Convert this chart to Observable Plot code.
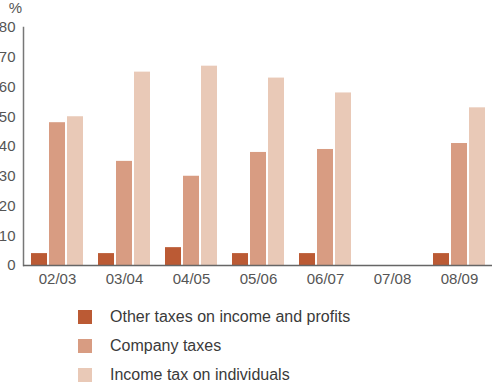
<!DOCTYPE html>
<html>
<head>
<meta charset="utf-8">
<script src="https://cdn.jsdelivr.net/npm/d3@7"></script>
<script src="https://cdn.jsdelivr.net/npm/@observablehq/plot@0.6"></script>
<style>
  body { margin: 0; background: #fff; font-family: "Liberation Sans", Arial, sans-serif; }
  #legend { margin-left: 78px; margin-top: 12px; }
  .item { display: flex; align-items: center; height: 29px; font-size: 16px; color: #3a3a3a; }
  .sw { width: 14px; height: 14px; margin-right: 18px; }
</style>
</head>
<body>
<div id="chart"></div>
<div id="legend"></div>
<script>
const years = ["02/03", "03/04", "04/05", "05/06", "06/07", "07/08", "08/09"];
const seriesNames = ["Other taxes on income and profits", "Company taxes", "Income tax on individuals"];
const otherTaxes = [4, 4, 6, 4, 4, null, 4];
const companyTaxes = [48, 35, 30, 38, 39, null, 41];
const incomeTax = [50, 65, 67, 63, 58, null, 53];
const colors = ["#bb5a34", "#d89c82", "#e9c9b7"];
const yTicks = [0, 10, 20, 30, 40, 50, 60, 70, 80];

const seriesValues = [otherTaxes, companyTaxes, incomeTax];
const rows = (i) => years.map((y, j) => ({year: y, value: seriesValues[i][j], series: seriesNames[i]}))
  .filter(d => d.value != null);

const barW = 16, gap = 2, groupW = 3 * barW + 2 * gap;
const barMarks = seriesNames.map((s, i) => Plot.barY(rows(i), {
  x: "year", y: "value", fill: colors[i],
  insetLeft: i * (barW + gap),
  insetRight: groupW - i * (barW + gap) - barW
}));

const chart = Plot.plot({
  width: 492,
  height: 290,
  marginLeft: 23,
  marginRight: 0,
  marginTop: 27,
  marginBottom: 25,
  style: {fontFamily: "Liberation Sans, Arial, sans-serif", fontSize: "15px", color: "#555", background: "#fff"},
  x: {domain: years, paddingInner: 0.224, paddingOuter: 0.112, label: null, tickSize: 0, tickPadding: 8},
  y: {domain: [0, 80], ticks: yTicks, label: null, tickSize: 0, tickPadding: 8},
  marks: [
    ...barMarks,
    Plot.frame({anchor: "left", stroke: "#777", strokeWidth: 1.5}),
    Plot.ruleY([0], {stroke: "#666", strokeWidth: 1.5}),
    Plot.text(["%"], {frameAnchor: "top-left", dx: -8, dy: -19, textAnchor: "middle", lineAnchor: "middle", fontSize: 15, fill: "#555"})
  ]
});
document.getElementById("chart").appendChild(chart);

const legend = document.getElementById("legend");
seriesNames.forEach((s, i) => {
  const item = document.createElement("div");
  item.className = "item";
  const sw = document.createElement("div");
  sw.className = "sw";
  sw.style.background = colors[i];
  const t = document.createElement("span");
  t.textContent = s;
  item.appendChild(sw);
  item.appendChild(t);
  legend.appendChild(item);
});
</script>
</body>
</html>
